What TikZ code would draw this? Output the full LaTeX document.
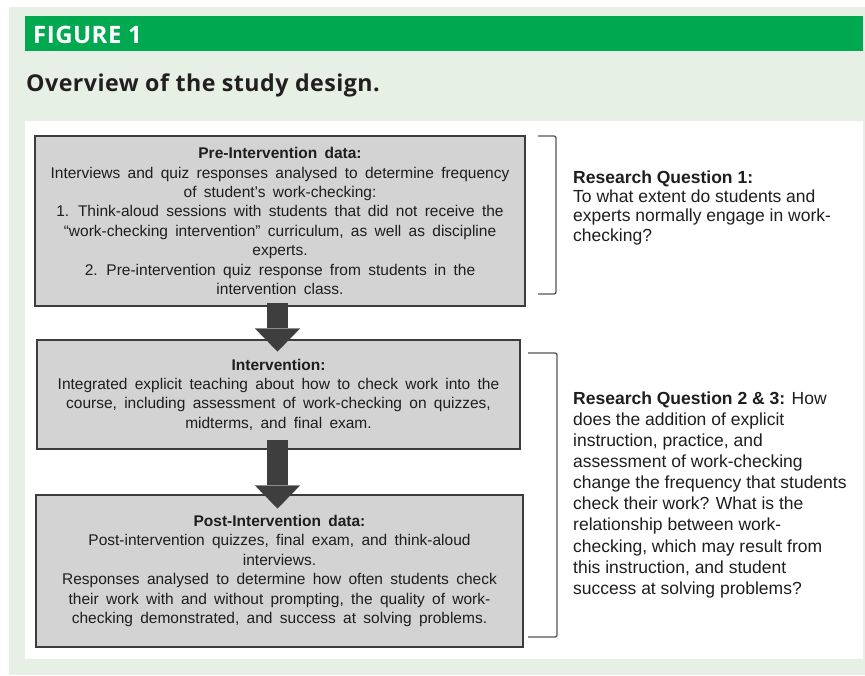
\documentclass[tikz,border=0pt]{standalone}
\usepackage{fontspec}
\setmainfont{Liberation Sans}
\newfontfamily\headfont[LetterSpace=2]{Open Sans}
\newfontfamily\boxfont[WordSpace=1.7]{Liberation Sans}
\usetikzlibrary{arrows.meta}

\definecolor{pagegreen}{RGB}{230,240,228}
\definecolor{bargreen}{RGB}{0,168,80}
\definecolor{boxgray}{RGB}{211,211,211}
\definecolor{boxline}{RGB}{60,60,60}
\definecolor{arrowgray}{RGB}{62,62,62}
\definecolor{brackgray}{RGB}{85,85,85}
\definecolor{textdark}{RGB}{30,30,30}
\definecolor{titleink}{RGB}{35,31,32}

\begin{document}
\begin{tikzpicture}[x=1pt,y=-1pt,
  stagebox/.style={draw=boxline, line width=1.1pt, fill=boxgray, inner sep=0pt,
    align=center, text=textdark,
    font=\boxfont\fontsize{15.5}{19.4}\selectfont},
  blockarrow/.style={draw=arrowgray, line width=21pt,
    -{Triangle[width=45pt,length=23pt,line width=0.1pt]}},
  bracket/.style={draw=brackgray, line width=1.3pt, rounded corners=2pt},
  question/.style={anchor=north west, inner sep=0pt, align=left, text=textdark},
  headtext/.style={anchor=west, inner sep=0pt, font=\headfont\bfseries\fontsize{24}{28}\selectfont}
]
% page frame
\useasboundingbox (0,0) rectangle (865,675);
\fill[white] (0,0) rectangle (865,675);
\fill[pagegreen] (9,7) rectangle (865,675);
\fill[white] (25,121) rectangle (863,659);

% heading
\fill[bargreen] (25,16) rectangle (863,51);
\node[headtext, text=white] (figlabel) at (33,34.5) {FIGURE 1};
\node[headtext, text=titleink, font=\headfont\bfseries\fontsize{23.2}{27}\selectfont] (figtitle) at (26,85) {Overview of the study design.};

% study stages
\node[stagebox, minimum width=490pt, minimum height=170pt] (pre) at (280,221) {%
\textbf{Pre-Intervention data:}\\
Interviews and quiz responses analysed to determine frequency\\
of student’s work-checking:\\
1. Think-aloud sessions with students that did not receive the\\
“work-checking intervention” curriculum, as well as discipline\\
experts.\\
2. Pre-intervention quiz response from students in the\\
intervention class.};

\node[stagebox, minimum width=483pt, minimum height=109pt] (mid) at (278.5,394.5) {%
\textbf{Intervention:}\\
Integrated explicit teaching about how to check work into the\\
course, including assessment of work-checking on quizzes,\\
midterms, and final exam.};

\node[stagebox, minimum width=487pt, minimum height=152pt] (post) at (279.5,571) {%
\textbf{Post-Intervention data:}\\
Post-intervention quizzes, final exam, and think-aloud\\
interviews.\\
Responses analysed to determine how often students check\\
their work with and without prompting, the quality of work-\\
checking demonstrated, and success at solving problems.};

% flow arrows
\draw[blockarrow] ([xshift=-2.5pt,yshift=4pt]pre.south) -- ([xshift=-1pt,yshift=-12pt]mid.north);
\draw[blockarrow] ([xshift=-1pt,yshift=10pt]mid.south) -- ([xshift=-2pt,yshift=-14pt]post.north);

% brackets grouping the stages
\draw[bracket] (538,136) -- (556,136) -- (556,294) -- (538,294);
\draw[bracket] (528,353) -- (557,353) -- (557,637) -- (528,637);

% research questions
\node[question, font=\fontsize{17.5}{19.3}\selectfont] (rq1) at (573,170.5) {%
\textbf{Research Question 1:}\\
To what extent do students and\\
experts normally engage in work-\\
checking?};

\node[question, font=\fontsize{17.5}{21.1}\selectfont] (rq2) at (573,391.5) {%
\textbf{Research Question 2 \& 3:} How\\
does the addition of explicit\\
instruction, practice, and\\
assessment of work-checking\\
change the frequency that students\\
check their work? What is the\\
relationship between work-\\
checking, which may result from\\
this instruction, and student\\
success at solving problems?};
\end{tikzpicture}
\end{document}
